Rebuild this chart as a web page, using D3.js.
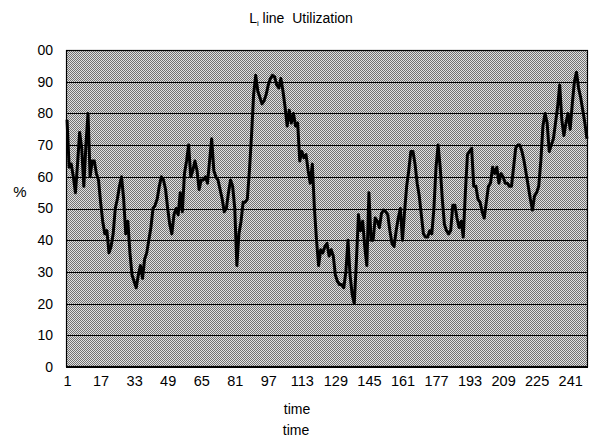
<!DOCTYPE html>
<html>
<head>
<meta charset="utf-8">
<script src="https://cdn.jsdelivr.net/npm/d3@7"></script>
<style>
  html, body { margin: 0; padding: 0; background: #fff; }
  svg { display: block; }
  text { font-family: "Liberation Sans", Arial, sans-serif; fill: #000; }
</style>
</head>
<body>
<svg id="chart" width="591" height="439"></svg>
<script>
// ---- data ----
const utilization = [
  78, 63, 64, 60, 55, 64, 74, 69, 57, 70,
  80, 60, 65, 65, 61, 59, 52, 46, 42, 43,
  36, 38, 42, 50, 53, 57, 60, 53, 42, 46,
  36, 29, 27, 25, 29, 32, 28, 34, 36, 40,
  44, 50, 51, 53, 57, 60, 59, 56, 50, 45,
  42, 48, 50, 48, 55, 49, 61, 65, 70, 60,
  62, 65, 62, 56, 59, 59, 60, 58, 65, 72,
  62, 60, 59, 56, 53, 49, 50, 55, 59, 57,
  50, 32, 42, 46, 52, 52, 53, 62, 73, 86,
  92, 87, 85, 83, 84, 86, 89, 91, 92, 91.5,
  89, 88, 91, 87, 82, 76, 81, 77, 80, 76,
  77, 65, 68, 66, 67, 62, 58, 64, 50, 40,
  32, 37, 36, 38, 39, 35, 37, 35, 29, 27,
  26, 26, 25, 30, 40, 29, 23, 20, 33, 48,
  43, 46, 38, 32, 55, 40, 40, 47, 46, 44,
  48.5, 49.5, 49, 48, 43, 39, 38, 43, 47, 50,
  40, 49, 57, 62, 68, 68, 64, 58, 54, 48,
  42, 41, 41, 43, 42, 50, 63, 70, 63, 53,
  45, 43, 42, 43, 51, 51, 47, 44, 46, 41,
  55, 67, 68, 69, 57, 57, 53, 52, 49, 47,
  52, 57, 58, 63, 61, 63, 58, 61, 60, 58,
  58, 57, 57, 63, 69, 70, 70, 68, 65, 61,
  57, 53, 49.5, 54, 55, 57, 65, 76, 80, 77,
  68, 70, 72, 77, 82, 89, 78, 73, 77, 80,
  75, 83, 90, 93, 88, 85, 81, 77, 72
];
const timeIndex = utilization.map((d, i) => i + 1);
const xTickValues = [1, 17, 33, 49, 65, 81, 97, 113, 129, 145, 161, 177, 193, 209, 225, 241];
const yTickValues = [0, 10, 20, 30, 40, 50, 60, 70, 80, 90, 100];
const yTickLabels = ["0", "10", "20", "30", "40", "50", "60", "70", "80", "90", "00"];
const titleMain = "L";
const titleSub = "i";
const titleRest = " line  Utilization";
const xAxisTitle = "time";
const yAxisTitle = "%";

// ---- drawing ----
const svg = d3.select("#chart");
const plotLeft = 66, plotRight = 588, plotTop = 50, plotBottom = 367;
const N = utilization.length;

const x = d3.scaleLinear().domain([0.5, N + 0.5]).range([plotLeft, plotRight]);
const y = d3.scaleLinear().domain([0, 100]).range([plotBottom, plotTop]);

// dithered background pattern (halftone look)
const defs = svg.append("defs");
const pat = defs.append("pattern")
  .attr("id", "dither").attr("patternUnits", "userSpaceOnUse")
  .attr("width", 2).attr("height", 2);
pat.append("rect").attr("width", 2).attr("height", 2).attr("fill", "#e2e2e2");
[[0,0],[1,1]].forEach(([px, py]) => {
  pat.append("rect").attr("x", px).attr("y", py).attr("width", 1).attr("height", 1)
    .attr("fill", "#727272");
});

svg.append("rect")
  .attr("x", plotLeft).attr("y", plotTop)
  .attr("width", plotRight - plotLeft).attr("height", plotBottom - plotTop)
  .attr("fill", "url(#dither)");

// gridlines
svg.append("g")
  .selectAll("line")
  .data(yTickValues.filter(v => v > 0 && v < 100))
  .join("line")
  .attr("x1", plotLeft).attr("x2", plotRight)
  .attr("y1", d => Math.round(y(d)) + 0.5).attr("y2", d => Math.round(y(d)) + 0.5)
  .attr("stroke", "#000").attr("stroke-width", 1.1);

// frame
svg.append("rect")
  .attr("x", plotLeft + 0.5).attr("y", plotTop + 0.5)
  .attr("width", plotRight - plotLeft - 1).attr("height", plotBottom - plotTop - 1)
  .attr("fill", "none").attr("stroke", "#000").attr("stroke-width", 1.2);
svg.append("line")
  .attr("x1", plotLeft).attr("x2", plotRight)
  .attr("y1", plotBottom).attr("y2", plotBottom)
  .attr("stroke", "#000").attr("stroke-width", 2);

// y axis (labels only)
const yAxis = d3.axisLeft(y)
  .tickValues(yTickValues)
  .tickFormat((d, i) => yTickLabels[i])
  .tickSize(0).tickPadding(0);
const gy = svg.append("g").attr("transform", `translate(${plotLeft - 13},0)`).call(yAxis);
gy.select(".domain").remove();
gy.selectAll("text").style("font-size", "14px").style("font-family", "Liberation Sans, Arial, sans-serif");

// x axis (labels only)
const xAxis = d3.axisBottom(x)
  .tickValues(xTickValues)
  .tickFormat(d3.format("d"))
  .tickSize(0).tickPadding(0);
const gx = svg.append("g").attr("transform", `translate(0,${plotBottom + 9})`).call(xAxis);
gx.select(".domain").remove();
gx.selectAll("text").style("font-size", "14.5px").style("font-family", "Liberation Sans, Arial, sans-serif");

// data line
const line = d3.line()
  .x((d, i) => x(timeIndex[i]))
  .y(d => y(d));
svg.append("path")
  .datum(utilization)
  .attr("d", line)
  .attr("fill", "none")
  .attr("stroke", "#000")
  .attr("stroke-width", 3)
  .attr("stroke-linejoin", "round");

// title
const title = svg.append("text")
  .attr("x", 301).attr("y", 23)
  .attr("text-anchor", "middle")
  .style("font-size", "14px");
title.append("tspan").text(titleMain);
title.append("tspan").attr("dy", 3).style("font-size", "8px").text(titleSub);
title.append("tspan").attr("dy", -3).style("white-space", "pre").text(titleRest);

// axis titles
svg.append("text").attr("x", 297).attr("y", 414).attr("text-anchor", "middle")
  .style("font-size", "14px").text(xAxisTitle);
svg.append("text").attr("x", 296).attr("y", 435).attr("text-anchor", "middle")
  .style("font-size", "14px").text(xAxisTitle);
svg.append("text").attr("x", 20).attr("y", 197).attr("text-anchor", "middle")
  .style("font-size", "15px").text(yAxisTitle);
</script>
</body>
</html>
